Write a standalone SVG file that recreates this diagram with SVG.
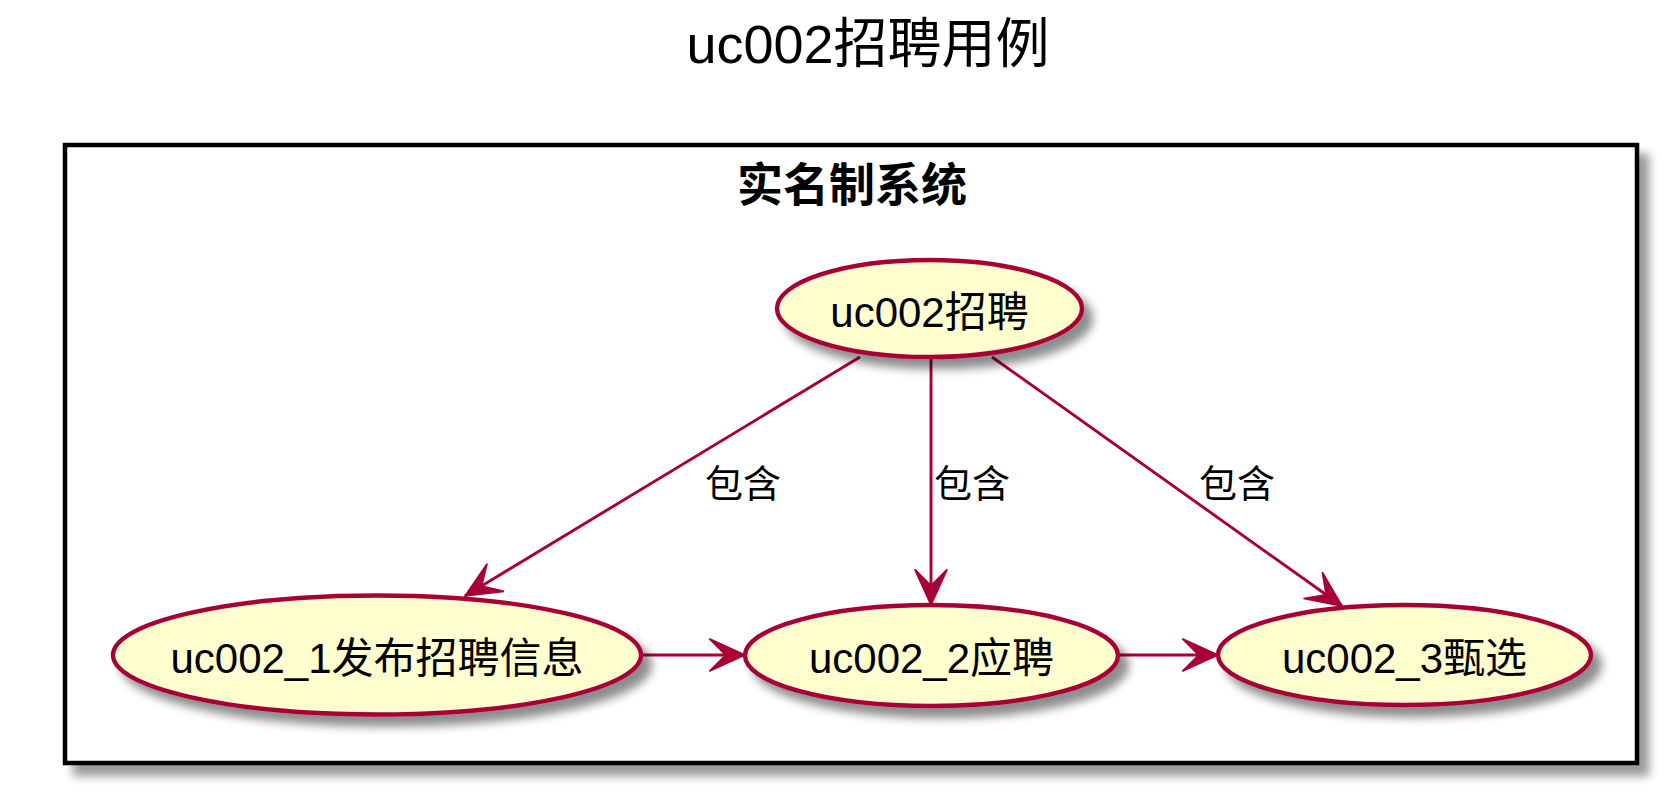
<svg xmlns="http://www.w3.org/2000/svg" width="1668" height="793" viewBox="0 0 1668 793">
<style>
.t{font-family:"Liberation Sans","Noto Sans CJK SC",sans-serif;fill:#000}
.uc{fill:#FEFECE;stroke:#A80036;stroke-width:4.4}
.ln{stroke:#A80036;stroke-width:2.9;fill:none}
.lbl{font-family:"Noto Sans CJK SC","Liberation Sans",sans-serif;font-size:38px;fill:#000}
.et{font-size:42px;text-anchor:middle}
</style>
<defs>
<filter id="sh" x="-20%" y="-30%" width="150%" height="180%">
<feGaussianBlur in="SourceAlpha" stdDeviation="5"/>
<feOffset dx="9" dy="10" result="o"/>
<feComponentTransfer><feFuncA type="linear" slope="0.45"/></feComponentTransfer>
<feMerge><feMergeNode/><feMergeNode in="SourceGraphic"/></feMerge>
</filter>
<filter id="shb" x="-5%" y="-5%" width="110%" height="115%">
<feGaussianBlur in="SourceAlpha" stdDeviation="5"/>
<feOffset dx="10" dy="11"/>
<feComponentTransfer><feFuncA type="linear" slope="0.4"/></feComponentTransfer>
<feMerge><feMergeNode/><feMergeNode in="SourceGraphic"/></feMerge>
</filter>
<marker id="ah" markerUnits="userSpaceOnUse" markerWidth="40" markerHeight="40" viewBox="-35 -17 37 34" refX="0" refY="0" orient="auto" overflow="visible">
<path d="M0,0 L-33,-15 L-18,0 L-33,15 Z" fill="#A80036" stroke="#A80036" stroke-width="1.5" stroke-linejoin="miter"/>
</marker>
</defs>
<rect width="1668" height="793" fill="#fff"/>
<text class="t" x="868" y="63" font-size="54" text-anchor="middle">uc002招聘用例</text>
<g id="system">
<rect x="65" y="145" width="1572" height="618" fill="#fff" stroke="#000" stroke-width="4.5" filter="url(#shb)"/>
<text x="852" y="201" font-family="'Noto Sans CJK SC',sans-serif" font-weight="bold" font-size="46" text-anchor="middle">实名制系统</text>
</g>
<g id="connectors">
<line class="ln" x1="860" y1="357" x2="465" y2="596" marker-end="url(#ah)"/>
<line class="ln" x1="931" y1="357" x2="931" y2="605" marker-end="url(#ah)"/>
<line class="ln" x1="992" y1="357" x2="1342" y2="606" marker-end="url(#ah)"/>
<line class="ln" x1="641" y1="655" x2="745" y2="655" marker-end="url(#ah)"/>
<line class="ln" x1="1118" y1="655" x2="1218" y2="655" marker-end="url(#ah)"/>
<text class="lbl" x="705" y="497">包含</text>
<text class="lbl" x="934" y="497">包含</text>
<text class="lbl" x="1199" y="497">包含</text>
</g>
<g id="uc002">
<ellipse class="uc" cx="929.5" cy="308.5" rx="152.5" ry="48.5" filter="url(#sh)"/>
<text class="t et" x="929.5" y="327">uc002招聘</text>
</g>
<g id="uc002_1">
<ellipse class="uc" cx="377" cy="655" rx="264" ry="59.5" filter="url(#sh)"/>
<text class="t et" x="377" y="673">uc002_1发布招聘信息</text>
</g>
<g id="uc002_2">
<ellipse class="uc" cx="931.5" cy="655.5" rx="186.5" ry="50.5" filter="url(#sh)"/>
<text class="t et" x="931.5" y="673">uc002_2应聘</text>
</g>
<g id="uc002_3">
<ellipse class="uc" cx="1404.5" cy="655" rx="186.5" ry="50" filter="url(#sh)"/>
<text class="t et" x="1404.5" y="673">uc002_3甄选</text>
</g>
</svg>
